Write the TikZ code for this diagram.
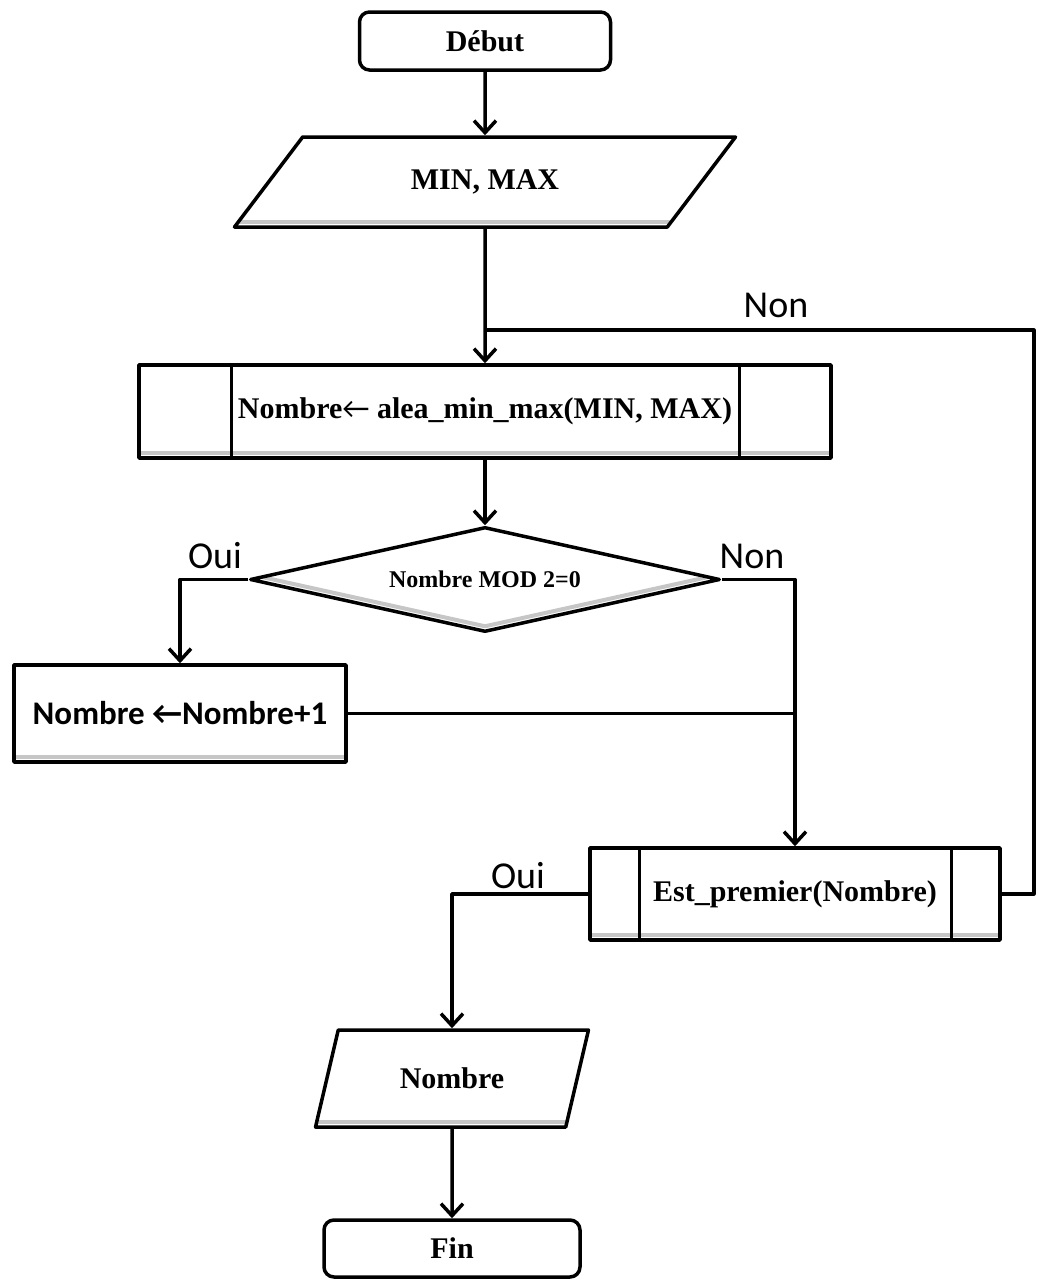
\documentclass[tikz,border=0pt]{standalone}
\usepackage{fontspec}
\setmainfont{Liberation Serif}
\newfontfamily\labelfont{Carlito}
\usetikzlibrary{shapes.geometric,arrows.meta}
\begin{document}
\begin{tikzpicture}[x=1pt,y=-1pt,
  line width=3.5pt, line join=round,
  boxbase/.style={draw, inner sep=0pt, font=\fontsize{30}{36}\selectfont\bfseries},
  shadeline/.style={draw=gray!45, line width=4pt},
  terminal/.style={boxbase, rectangle, rounded corners=10pt},
  io/.style 2 args={boxbase, trapezium, trapezium stretches=true,
    trapezium left angle=#1, trapezium right angle=#2,
    path picture={\draw[shadeline] ([yshift=5pt]path picture bounding box.south west)
      -- ([yshift=5pt]path picture bounding box.south east);}},
  subproc/.style={boxbase, rectangle,
    path picture={
      \draw[shadeline] ([yshift=5pt]path picture bounding box.south west)
        -- ([yshift=5pt]path picture bounding box.south east);
      \draw[line width=3pt] ([xshift=#1]path picture bounding box.north west)
        -- ([xshift=#1]path picture bounding box.south west);
      \draw[line width=3pt] ([xshift=-#1]path picture bounding box.north east)
        -- ([xshift=-#1]path picture bounding box.south east);}},
  process/.style={boxbase, rectangle, font=\labelfont\fontsize{33}{36}\selectfont\bfseries,
    path picture={\draw[shadeline] ([yshift=5pt]path picture bounding box.south west)
      -- ([yshift=5pt]path picture bounding box.south east);}},
  decision/.style={boxbase, diamond, shape aspect=4.5, font=\fontsize{24}{28}\selectfont\bfseries,
    path picture={\draw[shadeline] ([yshift=5pt]path picture bounding box.west)
      -- ([yshift=5pt]path picture bounding box.south)
      -- ([yshift=5pt]path picture bounding box.east);}},
  lbl/.style={inner sep=0pt, font=\labelfont\fontsize{38}{40}\selectfont},
  flow/.style={-{Straight Barb[length=12pt,width=22pt]}}
]
\useasboundingbox (0,0) rectangle (1038,1280);

% boxes of the flowchart, top to bottom
\node[terminal, minimum width=251pt, minimum height=58pt] (debut) at (485,41) {Début};
\node[io={41.4}{138.6}, minimum width=502pt, minimum height=90pt] (minmax) at (485,182) {MIN, MAX};
\node[subproc=92pt, minimum width=692pt, minimum height=93pt] (alea) at (485,411.5)
  {Nombre{\labelfont\mdseries←}\ alea\_min\_max(MIN, MAX)};
\node[decision, minimum width=470pt, minimum height=105pt] (test) at (485,579.5) {Nombre MOD 2=0};
\node[process, minimum width=332pt, minimum height=97pt] (incr) at (180,713.5) {Nombre ←Nombre+1};
\node[subproc=49pt, minimum width=410pt, minimum height=92pt] (prime) at (795,894) {Est\_premier(Nombre)};
\node[io={63.7}{116.3}, minimum width=273pt, minimum height=97pt] (out) at (452,1078.5) {Nombre};
\node[terminal, minimum width=256pt, minimum height=57pt] (fin) at (452,1248.5) {Fin};

% branch labels
\node[lbl] (non1) at (776,305) {Non};
\node[lbl] (oui1) at (215,556) {Oui};
\node[lbl] (non2) at (752,556) {Non};
\node[lbl] (oui2) at (518,876) {Oui};

% connectors
\coordinate (join) at (485,330);
\draw[flow] (debut.south) -- (minmax.north);
\draw[flow] (minmax.south) -- (alea.north);
\draw (prime.east) -- ++(32,0) |- (join);
\draw[flow] (alea.south) -- (test.north);
\draw[flow] (test.west) -| (incr.north);
\draw[flow] (test.east) -| (prime.north);
\draw (incr.east) -- (incr.east -| prime.north);
\draw[flow] (prime.west) -| (out.north);
\draw[flow] (out.south) -- (fin.north);
\end{tikzpicture}
\end{document}
